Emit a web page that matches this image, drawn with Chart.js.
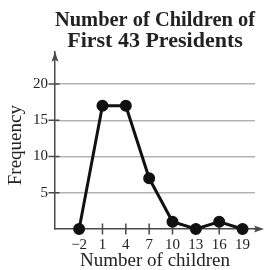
<!DOCTYPE html>
<html>
<head>
<meta charset="utf-8">
<script src="https://cdn.jsdelivr.net/npm/chart.js@4/dist/chart.umd.min.js"></script>
<style>
  html, body { margin: 0; padding: 0; background: #fff; }
</style>
</head>
<body>
<canvas id="chart" width="265" height="270"></canvas>
<script>
// --- data ---
const childCounts = [-2, 1, 4, 7, 10, 13, 16, 19];
const frequencies = [0, 17, 17, 7, 1, 0, 1, 0];
const xTickValues = [-2, 1, 4, 7, 10, 13, 16, 19];
const yTickValues = [5, 10, 15, 20];

const axisColor = "#4a4a4a";
const serif = "'Liberation Serif', 'Times New Roman', serif";

// --- arrows and tick marks crossing the axes ---
const axisExtras = {
  id: "axisExtras",
  beforeDatasetsDraw(chart) {
    const { ctx, chartArea: a, scales: { x, y } } = chart;
    ctx.save();
    ctx.strokeStyle = axisColor;
    ctx.fillStyle = axisColor;
    ctx.lineWidth = 1.5;

    // x axis runs past the plot, ends in an arrow
    ctx.beginPath();
    ctx.moveTo(a.right - 1, a.bottom);
    ctx.lineTo(a.right + 4, a.bottom);
    ctx.stroke();

    ctx.beginPath();
    ctx.moveTo(a.right + 9, a.bottom);
    ctx.lineTo(a.right - 1, a.bottom - 3.5);
    ctx.lineTo(a.right + 1, a.bottom);
    ctx.lineTo(a.right - 1, a.bottom + 3.5);
    ctx.closePath();
    ctx.fill();

    ctx.beginPath();
    ctx.moveTo(a.left, a.top);
    ctx.lineTo(a.left - 3.5, a.top + 10);
    ctx.lineTo(a.left, a.top + 8);
    ctx.lineTo(a.left + 3.5, a.top + 10);
    ctx.closePath();
    ctx.fill();

    // tick marks
    ctx.beginPath();
    x.ticks.forEach(t => {
      const px = x.getPixelForValue(t.value);
      ctx.moveTo(px, a.bottom - 5.5);
      ctx.lineTo(px, a.bottom + 5.5);
    });
    y.ticks.forEach(t => {
      const py = y.getPixelForValue(t.value);
      ctx.moveTo(a.left - 6.5, py);
      ctx.lineTo(a.left + 4.5, py);
    });
    ctx.stroke();
    ctx.restore();
  }
};

new Chart(document.getElementById("chart"), {
  type: "line",
  data: {
    datasets: [{
      data: childCounts.map((c, i) => ({ x: c, y: frequencies[i] })),
      borderColor: "#111",
      backgroundColor: "#111",
      borderWidth: 3,
      pointRadius: 4.5,
      pointHoverRadius: 4.5,
      tension: 0,
      clip: false
    }]
  },
  options: {
    responsive: false,
    animation: false,
    devicePixelRatio: 1,
    layout: { padding: { left: 0, right: 10, top: 0, bottom: 0 } },
    plugins: {
      legend: { display: false },
      tooltip: { enabled: false },
      title: {
        display: true,
        fullSize: false,
        text: ["Number of Children of", "First 43 Presidents"],
        color: "#222",
        font: { family: serif, size: 22, weight: "bold", lineHeight: 0.95 },
        padding: { top: 10, bottom: 0 }
      }
    },
    scales: {
      x: {
        type: "linear",
        min: -5.1,
        max: 20.6,
        afterFit: s => { s.height = 41; },
        afterBuildTicks: s => { s.ticks = xTickValues.map(v => ({ value: v })); },
        grid: { display: false, drawTicks: false },
        border: { color: axisColor, width: 1.5 },
        ticks: {
          padding: 7,
          color: "#222",
          font: { family: serif, size: 15 },
          callback: v => v < 0 ? "\u2212" + Math.abs(v) : String(v)
        },
        title: {
          display: true,
          text: "Number of children",
          color: "#222",
          font: { family: serif, size: 19, lineHeight: 0.9 },
          padding: 0
        }
      },
      y: {
        min: 0,
        max: 24.46,
        afterFit: s => { s.width = 55; },
        afterBuildTicks: s => { s.ticks = yTickValues.map(v => ({ value: v })); },
        grid: { color: "#b3b3b3", lineWidth: 1.5, drawTicks: false },
        border: { color: axisColor, width: 1.5 },
        ticks: {
          padding: 7,
          color: "#222",
          font: { family: serif, size: 15 }
        },
        title: {
          display: true,
          text: "Frequency  ",
          color: "#222",
          font: { family: serif, size: 19, lineHeight: 1 },
          padding: { top: 6.5, bottom: 0 }
        }
      }
    }
  },
  plugins: [axisExtras]
});
</script>
</body>
</html>
